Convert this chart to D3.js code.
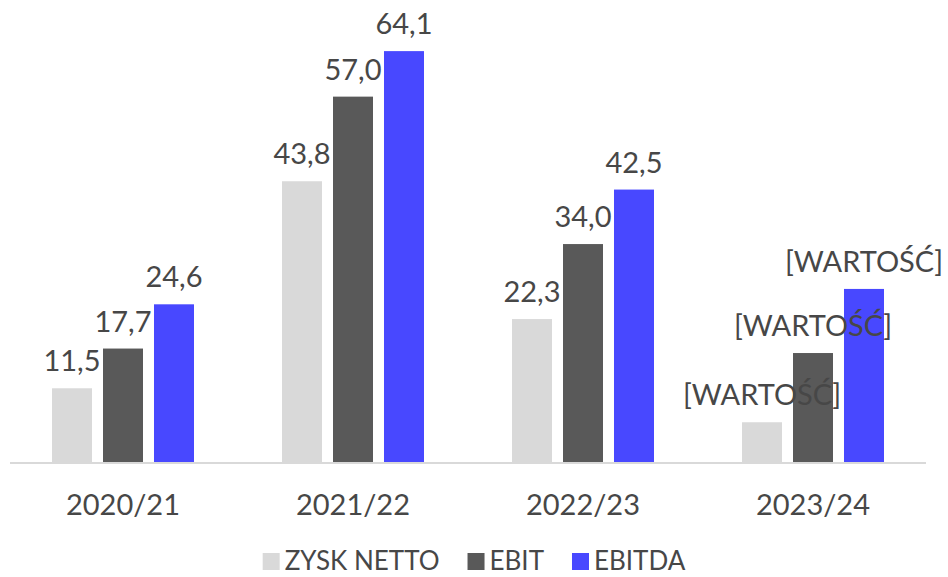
<!DOCTYPE html>
<html>
<head>
<meta charset="UTF-8">
<title>Wyniki</title>
<style>
  body { margin: 0; background: #fff; }
  svg text { font-family: Lato, "Noto Sans", sans-serif; fill: #474747; }
  .val { font-size: 29px; text-anchor: middle; }
  .cat { font-size: 29px; text-anchor: middle; }
  .leg { font-size: 26px; }
</style>
</head>
<body>
<svg width="948" height="577"></svg>
<script src="https://d3js.org/d3.v7.min.js"></script>
<script>
// data
var categories = ["2020/21", "2021/22", "2022/23", "2023/24"];
var series = ["ZYSK NETTO", "EBIT", "EBITDA"];
var zyskNetto = [11.5, 43.8, 22.3, 6.2];
var ebit = [17.7, 57.0, 34.0, 17.0];
var ebitda = [24.6, 64.1, 42.5, 27.0];
// last year has placeholder labels instead of numbers
var labels = [
  ["11,5", "43,8", "22,3", "[WARTOŚĆ]"],
  ["17,7", "57,0", "34,0", "[WARTOŚĆ]"],
  ["24,6", "64,1", "42,5", "[WARTOŚĆ]"]
];
var colors = ["#d9d9d9", "#595959", "#4848ff"];

var values = [zyskNetto, ebit, ebitda];

var svg = d3.select("svg");
var baseY = 462;

var x0 = d3.scaleBand().domain(categories).range([8, 928]);
var x1 = d3.scaleBand().domain(series).range([0, x0.bandwidth()])
    .paddingInner(11 / 51).paddingOuter(0.863);
var y = d3.scaleLinear().domain([0, 70]).range([baseY, baseY - 70 * 6.41]);

var rows = [];
categories.forEach(function (c, i) {
  series.forEach(function (s, j) {
    rows.push({cat: c, ser: s, v: values[j][i], label: labels[j][i], color: colors[j]});
  });
});

var g = svg.append("g");

g.selectAll("rect")
  .data(rows)
  .enter().append("rect")
  .attr("x", function (d) { return x0(d.cat) + x1(d.ser); })
  .attr("y", function (d) { return y(d.v); })
  .attr("width", x1.bandwidth())
  .attr("height", function (d) { return y(0) - y(d.v); })
  .attr("fill", function (d) { return d.color; });

// axis line
svg.append("line")
  .attr("x1", 10).attr("x2", 926)
  .attr("y1", baseY + 1).attr("y2", baseY + 1)
  .attr("stroke", "#d9d9d9").attr("stroke-width", 2);

g.selectAll("text.val")
  .data(rows)
  .enter().append("text")
  .attr("class", "val")
  .attr("x", function (d) { return x0(d.cat) + x1(d.ser) + x1.bandwidth() / 2; })
  .attr("y", function (d) { return y(d.v) - 17; })
  .text(function (d) { return d.label; });

svg.selectAll("text.cat")
  .data(categories)
  .enter().append("text")
  .attr("class", "cat")
  .attr("x", function (d) { return x0(d) + x0.bandwidth() / 2; })
  .attr("y", 515)
  .text(function (d) { return d; });

// legend, centred under the plot
var leg = svg.append("g");
var px = 0;
series.forEach(function (s, j) {
  var item = leg.append("g").attr("transform", "translate(" + px + ",0)");
  item.append("rect").attr("x", 0).attr("y", 553).attr("width", 17).attr("height", 17).attr("fill", colors[j]);
  var t = item.append("text").attr("class", "leg").attr("x", 22).attr("y", 570).text(s);
  px += 22 + t.node().getComputedTextLength() + 28;
});
var legW = px - 28;
leg.attr("transform", "translate(" + (474 - legW / 2) + ",0)");
</script>
</body>
</html>
